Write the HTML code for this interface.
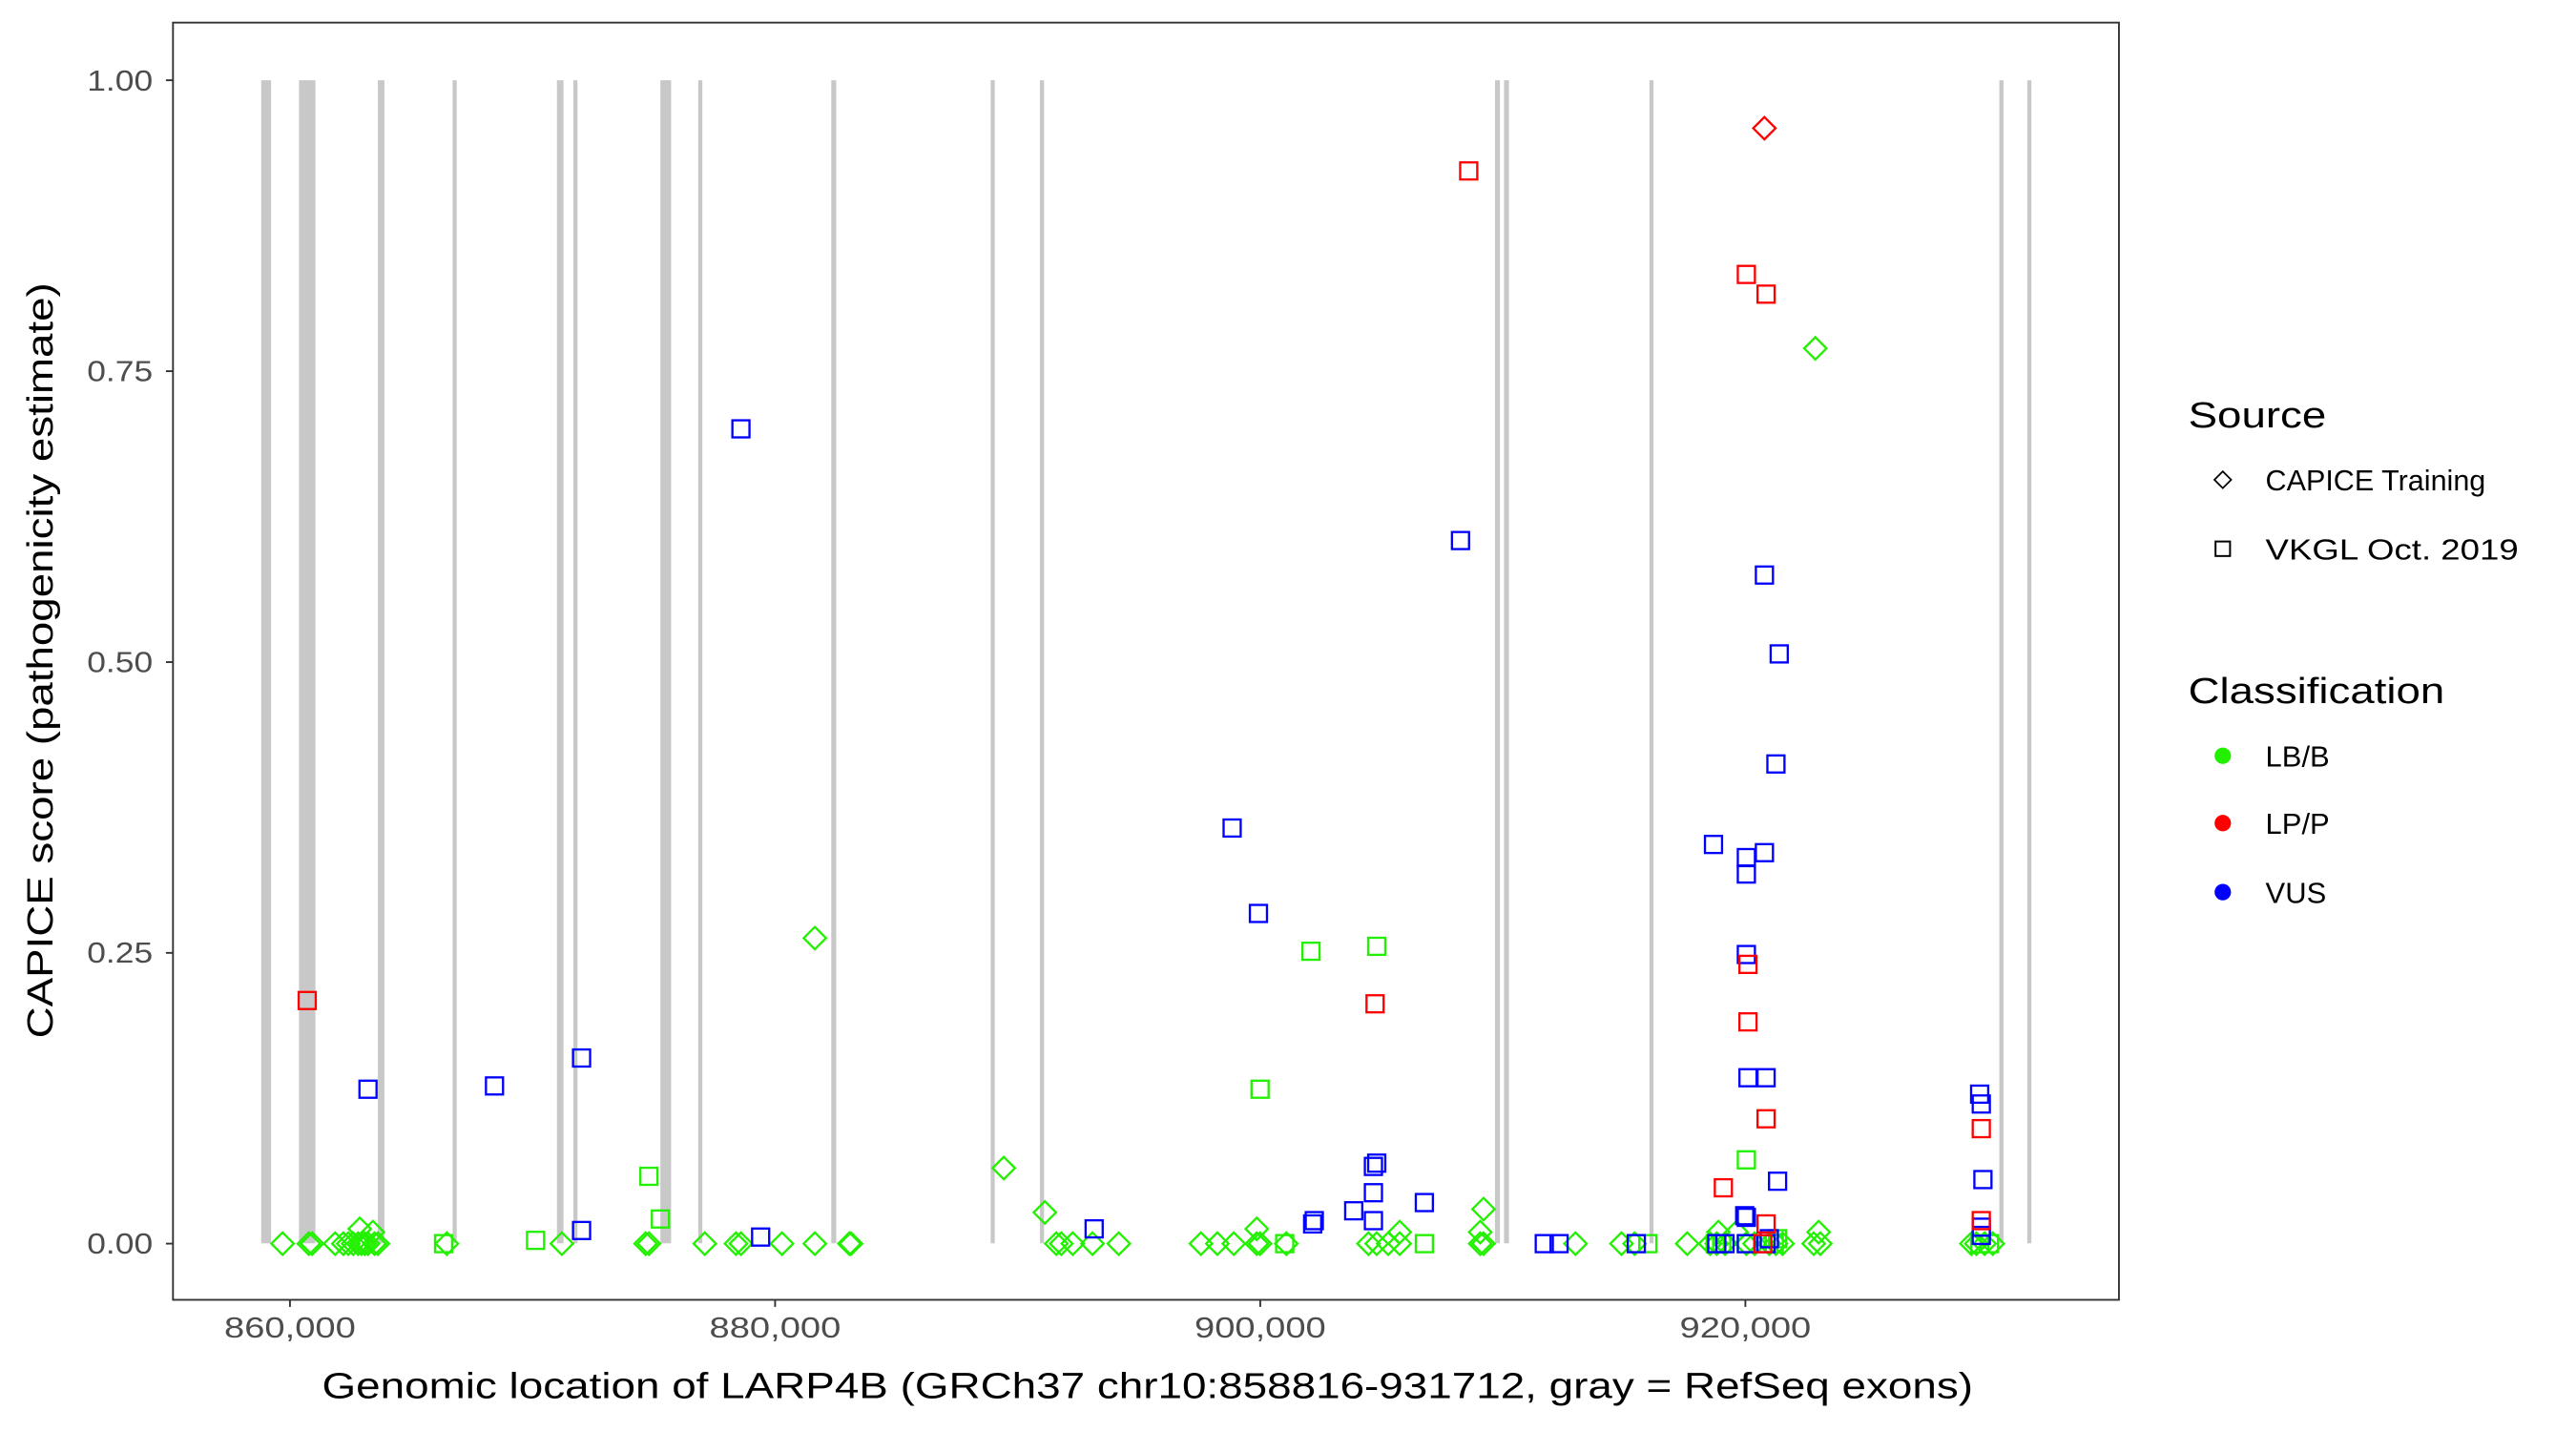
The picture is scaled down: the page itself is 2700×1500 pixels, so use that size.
<!DOCTYPE html>
<html><head><meta charset="utf-8"><style>html,body{margin:0;padding:0;background:#fff}svg{display:block}</style></head>
<body>
<svg width="2700" height="1500" viewBox="0 0 1568 871" xmlns="http://www.w3.org/2000/svg" font-family="Liberation Sans, sans-serif">
<defs>
<path id="d" d="M0,-6.8 L6.8,0 L0,6.8 L-6.8,0Z" fill="none" stroke-width="1.35"/>
<rect id="s" x="-5.2" y="-5.2" width="10.4" height="10.4" fill="none" stroke-width="1.35"/>
</defs>
<rect x="0" y="0" width="1568" height="871" fill="#fff"/>
<g fill="#c8c8c8">
<rect x="159" y="48.8" width="6" height="708"/>
<rect x="182" y="48.8" width="10" height="708"/>
<rect x="230" y="48.8" width="4" height="708"/>
<rect x="275.5" y="48.8" width="2.5" height="708"/>
<rect x="339" y="48.8" width="4" height="708"/>
<rect x="349" y="48.8" width="2.5" height="708"/>
<rect x="402" y="48.8" width="6.5" height="708"/>
<rect x="425" y="48.8" width="2.5" height="708"/>
<rect x="506" y="48.8" width="3" height="708"/>
<rect x="603" y="48.8" width="2.5" height="708"/>
<rect x="633" y="48.8" width="2.5" height="708"/>
<rect x="910" y="48.8" width="3" height="708"/>
<rect x="915.5" y="48.8" width="3" height="708"/>
<rect x="1004" y="48.8" width="2.5" height="708"/>
<rect x="1217" y="48.8" width="2.5" height="708"/>
<rect x="1234" y="48.8" width="2.5" height="708"/>
</g>
<g stroke="#22f000">
<use href="#d" x="172" y="757"/><use href="#d" x="188" y="757"/><use href="#d" x="190" y="757"/><use href="#d" x="204" y="757"/><use href="#d" x="209" y="757"/><use href="#d" x="212" y="757"/><use href="#d" x="215" y="757"/><use href="#d" x="218" y="757"/><use href="#d" x="220" y="757"/><use href="#d" x="222" y="757"/><use href="#d" x="224" y="757"/><use href="#d" x="228" y="757"/><use href="#d" x="230" y="757"/><use href="#d" x="272" y="757"/><use href="#d" x="342" y="757"/><use href="#d" x="393" y="757"/><use href="#d" x="395" y="757"/><use href="#d" x="429" y="757"/><use href="#d" x="448" y="757"/><use href="#d" x="451" y="757"/><use href="#d" x="476" y="757"/><use href="#d" x="496" y="757"/><use href="#d" x="517" y="757"/><use href="#d" x="518" y="757"/><use href="#d" x="643" y="757"/><use href="#d" x="646" y="757"/><use href="#d" x="653" y="757"/><use href="#d" x="665" y="757"/><use href="#d" x="681" y="757"/><use href="#d" x="731" y="757"/><use href="#d" x="741" y="757"/><use href="#d" x="751" y="757"/><use href="#d" x="765" y="757"/><use href="#d" x="767" y="757"/><use href="#d" x="783" y="757"/><use href="#d" x="833" y="757"/><use href="#d" x="838" y="757"/><use href="#d" x="845" y="757"/><use href="#d" x="852" y="757"/><use href="#d" x="901" y="757"/><use href="#d" x="903" y="757"/><use href="#d" x="959" y="757"/><use href="#d" x="987" y="757"/><use href="#d" x="995" y="757"/><use href="#d" x="1027" y="757"/><use href="#d" x="1041" y="757"/><use href="#d" x="1045" y="757"/><use href="#d" x="1050" y="757"/><use href="#d" x="1063" y="757"/><use href="#d" x="1068" y="757"/><use href="#d" x="1077" y="757"/><use href="#d" x="1081" y="757"/><use href="#d" x="1085" y="757"/><use href="#d" x="1104" y="757"/><use href="#d" x="1108" y="757"/><use href="#d" x="1200" y="757"/><use href="#d" x="1203" y="757"/><use href="#d" x="1208" y="757"/><use href="#d" x="1213" y="757"/>
<use href="#d" x="219" y="748"/><use href="#d" x="227" y="750"/><use href="#d" x="611" y="711"/><use href="#d" x="636" y="738"/><use href="#d" x="496" y="571"/><use href="#d" x="765" y="748"/><use href="#d" x="852" y="750"/><use href="#d" x="903" y="736"/><use href="#d" x="901" y="750"/><use href="#d" x="1105" y="212"/><use href="#d" x="1107" y="750"/><use href="#d" x="1046" y="750"/><use href="#d" x="1057" y="750"/>
</g>
<g stroke="#22f000">
<use href="#s" x="270" y="757"/><use href="#s" x="326" y="755"/><use href="#s" x="395" y="716"/><use href="#s" x="402" y="742"/><use href="#s" x="782" y="757"/><use href="#s" x="798" y="579"/><use href="#s" x="767" y="663"/><use href="#s" x="838" y="576"/><use href="#s" x="867" y="757"/><use href="#s" x="1063" y="706"/><use href="#s" x="1048" y="757"/><use href="#s" x="1063" y="757"/><use href="#s" x="1080" y="757"/><use href="#s" x="1082" y="754"/><use href="#s" x="1205" y="757"/><use href="#s" x="1211" y="757"/><use href="#s" x="1003" y="757"/><use href="#s" x="1044" y="757"/>
</g>
<g stroke="#0000ff">
<use href="#s" x="224" y="663"/><use href="#s" x="301" y="661"/><use href="#s" x="354" y="644"/><use href="#s" x="354" y="749"/><use href="#s" x="451" y="261"/><use href="#s" x="463" y="753"/><use href="#s" x="666" y="748"/><use href="#s" x="750" y="504"/><use href="#s" x="766" y="556"/><use href="#s" x="800" y="743"/><use href="#s" x="799" y="745"/><use href="#s" x="824" y="737"/><use href="#s" x="836" y="710"/><use href="#s" x="838" y="708"/><use href="#s" x="836" y="726"/><use href="#s" x="836" y="743"/><use href="#s" x="867" y="732"/><use href="#s" x="889" y="329"/><use href="#s" x="940" y="757"/><use href="#s" x="949" y="757"/><use href="#s" x="996" y="757"/><use href="#s" x="1043" y="514"/><use href="#s" x="1063" y="532"/><use href="#s" x="1063" y="522"/><use href="#s" x="1074" y="519"/><use href="#s" x="1063" y="581"/><use href="#s" x="1064" y="656"/><use href="#s" x="1075" y="656"/><use href="#s" x="1062" y="740"/><use href="#s" x="1063" y="741"/><use href="#s" x="1082" y="719"/><use href="#s" x="1081" y="465"/><use href="#s" x="1083" y="398"/><use href="#s" x="1074" y="350"/><use href="#s" x="1205" y="666"/><use href="#s" x="1206" y="672"/><use href="#s" x="1207" y="718"/><use href="#s" x="1206" y="747"/><use href="#s" x="1206" y="752"/><use href="#s" x="1045" y="757"/><use href="#s" x="1063" y="757"/><use href="#s" x="1075" y="757"/><use href="#s" x="1077" y="754"/><use href="#s" x="1050" y="757"/>
</g>
<g stroke="#ff0000">
<use href="#s" x="187" y="609"/><use href="#s" x="894" y="104"/><use href="#s" x="837" y="611"/><use href="#s" x="1063" y="167"/><use href="#s" x="1075" y="179"/><use href="#s" x="1064" y="587"/><use href="#s" x="1064" y="622"/><use href="#s" x="1075" y="681"/><use href="#s" x="1049" y="723"/><use href="#s" x="1075" y="745"/><use href="#s" x="1206" y="687"/><use href="#s" x="1206" y="743"/><use href="#s" x="1073" y="757"/>
<use href="#d" x="1074" y="78"/>
</g>
<rect x="105.3" y="13.7" width="1184.5" height="777.5" fill="none" stroke="#333" stroke-width="1.1"/>
<g stroke="#333" stroke-width="1.1">
<line x1="101" x2="105.3" y1="48.8" y2="48.8"/><line x1="101" x2="105.3" y1="225.9" y2="225.9"/><line x1="101" x2="105.3" y1="403" y2="403"/><line x1="101" x2="105.3" y1="580" y2="580"/><line x1="101" x2="105.3" y1="757" y2="757"/>
<line y1="791.2" y2="795.5" x1="176.5" x2="176.5"/><line y1="791.2" y2="795.5" x1="471.8" x2="471.8"/><line y1="791.2" y2="795.5" x1="767.1" x2="767.1"/><line y1="791.2" y2="795.5" x1="1062.4" x2="1062.4"/>
</g>
<g fill="#4d4d4d" font-size="18" text-anchor="end">
<text x="93" y="55" textLength="40" lengthAdjust="spacingAndGlyphs">1.00</text><text x="93" y="232" textLength="40" lengthAdjust="spacingAndGlyphs">0.75</text><text x="93" y="409" textLength="40" lengthAdjust="spacingAndGlyphs">0.50</text><text x="93" y="586" textLength="40" lengthAdjust="spacingAndGlyphs">0.25</text><text x="93" y="763" textLength="40" lengthAdjust="spacingAndGlyphs">0.00</text>
</g>
<g fill="#4d4d4d" font-size="18">
<text x="136.5" y="814" textLength="80" lengthAdjust="spacingAndGlyphs">860,000</text><text x="431.8" y="814" textLength="80" lengthAdjust="spacingAndGlyphs">880,000</text><text x="727.1" y="814" textLength="80" lengthAdjust="spacingAndGlyphs">900,000</text><text x="1022.4" y="814" textLength="80" lengthAdjust="spacingAndGlyphs">920,000</text>
</g>
<text x="196" y="851" font-size="22" textLength="1005" lengthAdjust="spacingAndGlyphs" fill="#000">Genomic location of LARP4B (GRCh37 chr10:858816-931712, gray = RefSeq exons)</text>
<text transform="translate(32,632) rotate(-90)" font-size="22" textLength="460" lengthAdjust="spacingAndGlyphs" fill="#000">CAPICE score (pathogenicity estimate)</text>
<text x="1332" y="260" font-size="22" fill="#000" textLength="84" lengthAdjust="spacingAndGlyphs">Source</text>
<use href="#d" x="1353" y="292" stroke="#000" transform="translate(1353,292) scale(0.75) translate(-1353,-292)"/>
<use href="#s" x="1353" y="334" stroke="#000" transform="translate(1353,334) scale(0.85) translate(-1353,-334)"/>
<text x="1379" y="298.5" font-size="18" fill="#000" textLength="134" lengthAdjust="spacingAndGlyphs">CAPICE Training</text>
<text x="1379" y="340.5" font-size="18" fill="#000" textLength="154" lengthAdjust="spacingAndGlyphs">VKGL Oct. 2019</text>
<text x="1332" y="428" font-size="22" fill="#000" textLength="156" lengthAdjust="spacingAndGlyphs">Classification</text>
<circle cx="1353" cy="460" r="5" fill="#22f000"/><circle cx="1353" cy="501" r="5" fill="#ff0000"/><circle cx="1353" cy="543" r="5" fill="#0000ff"/>
<text x="1379" y="466.5" font-size="18" fill="#000">LB/B</text>
<text x="1379" y="507.5" font-size="18" fill="#000">LP/P</text>
<text x="1379" y="549.5" font-size="18" fill="#000">VUS</text>
</svg>
</body></html>
